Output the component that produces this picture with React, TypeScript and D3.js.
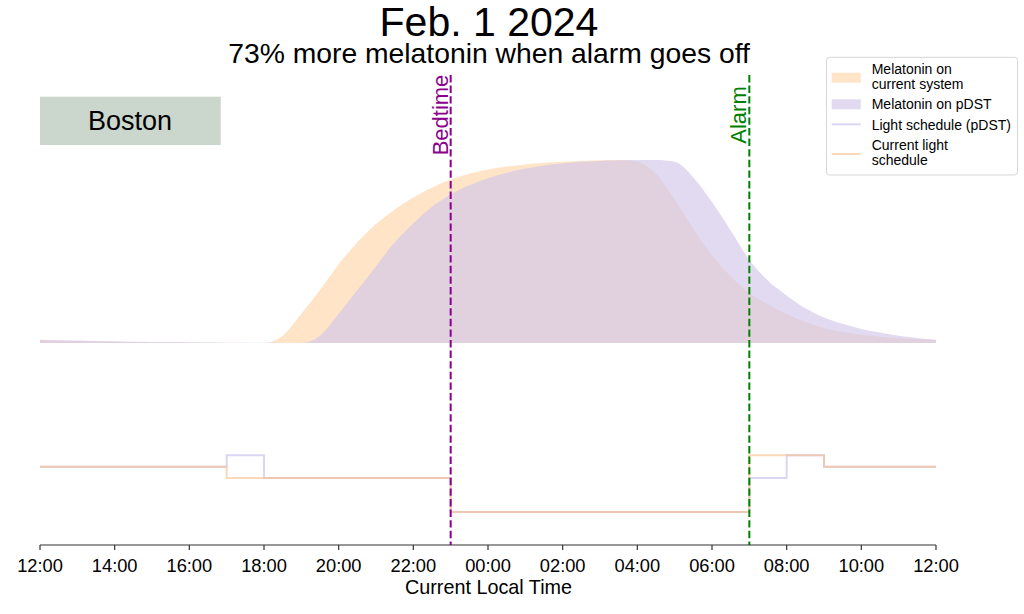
import React from 'react';
import * as d3 from 'd3';

// hours after 12:00 (noon) on the first day
const hours = [0,0.5,1,1.5,2,2.5,3,3.5,4,4.5,5,5.5,6,6.5,7,7.5,8,8.5,9,9.5,10,10.5,11,11.5,12,12.5,13,13.5,14,14.5,15,15.5,16,16.5,17,17.5,18,18.5,19,19.5,20,20.5,21,21.5,22,22.5,23,23.5,24];

const melatoninCurrent = [0.016,0.013,0.011,0.009,0.007,0.005,0.004,0.003,0.002,0.0015,0.001,0.0005,0,0.04,0.16,0.29,0.43,0.55,0.65,0.73,0.795,0.85,0.893,0.925,0.948,0.964,0.976,0.985,0.991,0.995,0.998,1.0,0.99,0.925,0.785,0.625,0.48,0.365,0.275,0.21,0.158,0.115,0.082,0.06,0.045,0.034,0.026,0.02,0.016];

const melatoninPDST = [0.018,0.015,0.013,0.011,0.009,0.007,0.006,0.005,0.004,0.003,0.002,0.0015,0.001,0.0005,0,0.04,0.16,0.29,0.42,0.55,0.655,0.745,0.812,0.862,0.90,0.93,0.953,0.97,0.982,0.99,0.995,0.998,1.0,1.0,0.99,0.905,0.77,0.615,0.455,0.34,0.26,0.19,0.14,0.105,0.077,0.057,0.04,0.028,0.018];

const lightHours = [0, 5, 6, 11, 19, 20, 21, 24];
const lightCurrent = [4, 3, 3, 0, 5, 5, 4, 4];
const lightPDST = [4, 5, 3, 0, 3, 5, 4, 4];

const tickHours = [0, 2, 4, 6, 8, 10, 12, 14, 16, 18, 20, 22, 24];
const tickLabels = ['12:00','14:00','16:00','18:00','20:00','22:00','00:00','02:00','04:00','06:00','08:00','10:00','12:00'];

const bedtimeHour = 11;
const alarmHour = 19;

const FONT = '"Liberation Sans", Arial, Helvetica, sans-serif';

export default function App() {
  const x = d3.scaleLinear().domain([0, 24]).range([40, 936]);
  const yMel = d3.scaleLinear().domain([0, 1]).range([343, 160]);
  const yLight = d3.scaleLinear().domain([0, 5]).range([512, 455.3]);

  const areaGen = (vals: number[]) =>
    d3.area<number>()
      .x((_, i) => x(hours[i]))
      .y0(yMel(0))
      .y1((d) => yMel(d))
      .curve(d3.curveMonotoneX)(vals) || '';

  const lineGen = (vals: number[]) =>
    d3.line<number>()
      .x((_, i) => x(lightHours[i]))
      .y((d) => yLight(d))
      .curve(d3.curveStepAfter)(vals) || '';

  const orangeFill = 'rgb(255,228,200)';
  const purpleFill = 'rgb(211,201,233)';
  const orangeLine = 'rgb(250,190,140)';
  const purpleLine = 'rgb(195,185,235)';

  const bx = x(bedtimeHour);
  const ax = x(alarmHour);

  return (
    <svg width={1024} height={614} style={{ position: 'absolute', left: 0, top: 0, background: '#fff' }} fontFamily={FONT}>
      <rect x={0} y={0} width={1024} height={614} fill="#fff" />
      {/* Title */}
      <text x={489} y={36} textAnchor="middle" fontSize={41} fill="#000">Feb. 1 2024</text>
      <text x={489} y={63} textAnchor="middle" fontSize={28.3} fill="#000">73% more melatonin when alarm goes off</text>

      {/* Boston box */}
      <rect x={40} y={96.7} width={180.7} height={48.3} fill="rgb(203,214,205)" />
      <text x={130} y={130} textAnchor="middle" fontSize={27} fill="#000">Boston</text>

      {/* Melatonin areas */}
      <path d={areaGen(melatoninCurrent)} fill={orangeFill} />
      <path d={areaGen(melatoninPDST)} fill={purpleFill} fillOpacity={0.68} />

      {/* Light schedules */}
      <path d={lineGen(lightPDST)} fill="none" stroke={purpleLine} strokeOpacity={0.6} strokeWidth={2} />
      <path d={lineGen(lightCurrent)} fill="none" stroke={orangeLine} strokeOpacity={0.6} strokeWidth={2} />

      {/* Bedtime / Alarm */}
      <line x1={bx} x2={bx} y1={75} y2={545} stroke="darkmagenta" strokeWidth={2} strokeDasharray="7.4,3.2" />
      <text transform={`translate(${bx - 2.5},115) rotate(-90)`} textAnchor="middle" fontSize={22} fill="darkmagenta">Bedtime</text>
      <line x1={ax} x2={ax} y1={75} y2={545} stroke="green" strokeWidth={2} strokeDasharray="7.4,3.2" />
      <text transform={`translate(${ax - 3.5},115) rotate(-90)`} textAnchor="middle" fontSize={22} fill="green">Alarm</text>

      {/* X axis */}
      <line x1={x(0)} x2={x(24)} y1={545} y2={545} stroke="#333" strokeWidth={1.2} />
      {tickHours.map((h, i) => (
        <g key={i} transform={`translate(${x(h)},545)`}>
          <line y1={0} y2={5} stroke="#333" strokeWidth={1.2} />
          <text y={26.5} textAnchor="middle" fontSize={18.3} fill="#000">{tickLabels[i]}</text>
        </g>
      ))}
      <text x={488.5} y={594} textAnchor="middle" fontSize={19.8} fill="#000">Current Local Time</text>

      {/* Legend */}
      <rect x={826.5} y={57.3} width={191} height={117.7} rx={3} fill="#fff" fillOpacity={0.8} stroke="#d5d5d5" strokeWidth={1} />
      <rect x={831.7} y={72.7} width={29} height={10} fill={orangeFill} />
      <text x={871.7} y={74} fontSize={14} fill="#000">Melatonin on</text>
      <text x={871.7} y={88.5} fontSize={14} fill="#000">current system</text>
      <rect x={831.7} y={99.3} width={29} height={10} fill={purpleFill} fillOpacity={0.68} />
      <text x={871.7} y={108.5} fontSize={14} fill="#000">Melatonin on pDST</text>
      <line x1={831.7} x2={860.7} y1={124.3} y2={124.3} stroke={purpleLine} strokeOpacity={0.6} strokeWidth={2} />
      <text x={871.7} y={130} fontSize={14} fill="#000">Light schedule (pDST)</text>
      <line x1={831.7} x2={860.7} y1={154} y2={154} stroke={orangeLine} strokeOpacity={0.6} strokeWidth={2} />
      <text x={871.7} y={150} fontSize={14} fill="#000">Current light</text>
      <text x={871.7} y={164.5} fontSize={14} fill="#000">schedule</text>
    </svg>
  );
}
